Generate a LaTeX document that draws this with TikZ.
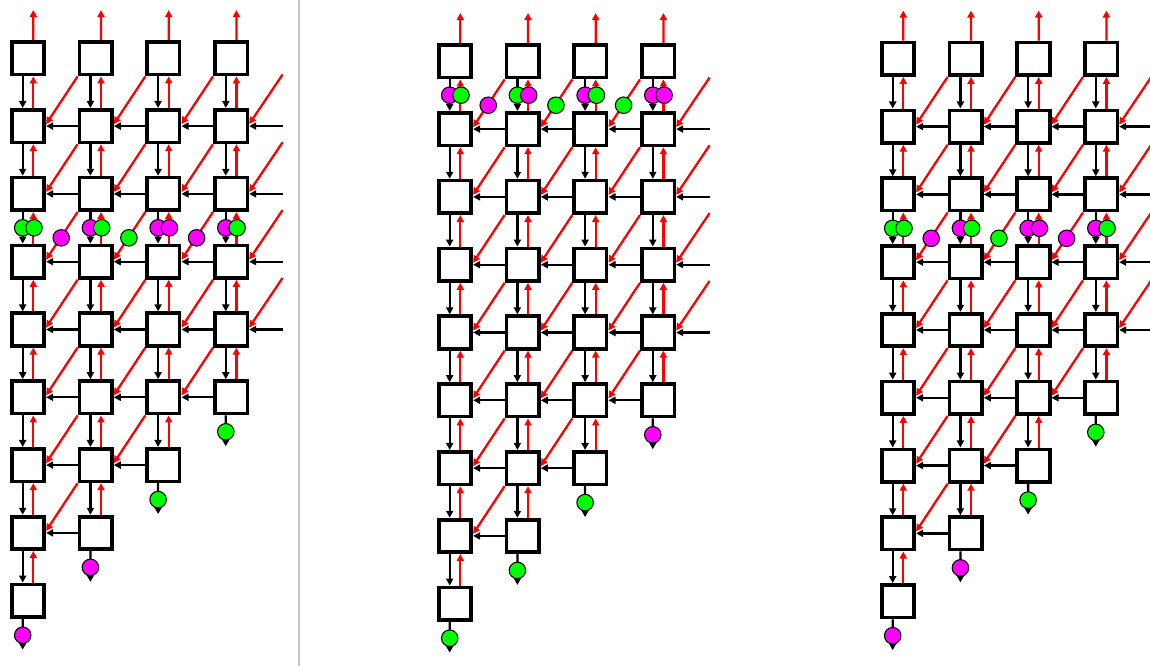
\documentclass[tikz,border=0pt]{standalone}
\usepackage{tikz}
\usetikzlibrary{arrows.meta,calc}
\definecolor{Lime}{HTML}{00FF00}
\definecolor{Fuchsia}{HTML}{FF00FF}
\definecolor{Divider}{HTML}{C4C4C4}
\tikzset{
  cell/.style={
    draw=black, line width=2.1pt, fill=white,
    minimum size=0.65cm, inner sep=0pt
  },
  token/.style={
    circle, draw=black, line width=0.6pt,
    minimum size=0.33cm, inner sep=0pt
  },
  blackflow/.style={-{Triangle[length=4pt,width=4pt]}, line width=1.3pt, draw=black},
  redflow/.style={-{Triangle[length=4pt,width=4pt]}, line width=1.3pt, draw=red},
  sink/.style={-{Triangle[length=5.5pt,width=5.8pt]}, line width=1.3pt, draw=black},
  divider/.style={draw=Divider, line width=0.6pt}
}

\begin{document}
\begin{tikzpicture}[x=0.02cm,y=0.02cm]
  \useasboundingbox (0,0) rectangle (1150,-666);
  \coordinate (sepT) at (299,0);
  \coordinate (sepB) at (299,-666);
  \draw[divider] (sepT) -- (sepB);

  \foreach \p/\ox/\oy/\ba/\bb/\bc/\bd in {1/0/0/Fuchsia/Fuchsia/Lime/Lime,2/427/3/Lime/Lime/Lime/Fuchsia,3/870/0.5/Fuchsia/Fuchsia/Lime/Lime} {
    \foreach \c in {0,...,3} {
      \pgfmathtruncatemacro\last{8-\c}
      \foreach \r in {0,...,\last}
        \node[cell] (p\p r\r c\c) at ({\ox+28+67.7*\c},{-\oy-58.3-67.8*\r}) {};
    }
    \foreach \c/\tint in {0/\ba,1/\bb,2/\bc,3/\bd} {
      \pgfmathtruncatemacro\last{8-\c}
      \pgfmathtruncatemacro\prev{7-\c}
      \coordinate (p\p o\c) at ({\ox+33.3+67.7*\c},{-\oy-10});
      \draw[redflow] ([xshift=0.106cm]p\p r0c\c.north) -- (p\p o\c);
      \foreach \r in {0,...,\prev} {
        \pgfmathtruncatemacro\nx{\r+1}
        \draw[blackflow] ([xshift=-0.106cm]p\p r\r c\c.south) -- ([xshift=-0.106cm]p\p r\nx c\c.north);
        \draw[redflow] ([xshift=0.106cm]p\p r\nx c\c.north) -- ([xshift=0.106cm]p\p r\r c\c.south);
      }
      \coordinate (p\p s\c) at ({\ox+22.7+67.7*\c},{-\oy-107.3-67.8*\last});
      \draw[sink] ([xshift=-0.106cm]p\p r\last c\c.south) -- node[token,fill=\tint,pos=.53] (p\p t\c) {} (p\p s\c);
    }
    \foreach \c in {0,1,2} {
      \pgfmathtruncatemacro\nb{\c+1}
      \pgfmathtruncatemacro\prev{7-\c}
      \foreach \r in {1,...,\prev} {
        \pgfmathtruncatemacro\q{\r-1}
        \draw[blackflow] (p\p r\r c\nb.west) -- (p\p r\r c\c.east);
        \draw[redflow] (p\p r\q c\nb.south west) -- ([yshift=0.04cm]p\p r\r c\c.east);
      }
    }
    \foreach \r in {1,...,4} {
      \pgfmathtruncatemacro\q{\r-1}
      \coordinate (p\p h\r) at ({\ox+282.6},{-\oy-58.3-67.8*\r});
      \coordinate (p\p g\r) at ({\ox+282.6},{-\oy-74.5-67.8*\q});
      \draw[blackflow] (p\p h\r) -- (p\p r\r c3.east);
      \draw[redflow] (p\p g\r) -- ([yshift=0.04cm]p\p r\r c3.east);
    }
  }

  \foreach \c/\ta/\tb in {0/Lime/Lime,1/Fuchsia/Lime,2/Fuchsia/Fuchsia,3/Fuchsia/Lime} {
    \node[token,fill=\ta] (p1a\c) at ($(p1r2c\c.south)!.5!(p1r3c\c.north)+(-5.3,0)$) {};
    \node[token,fill=\tb] (p1b\c) at ($(p1r2c\c.south)!.5!(p1r3c\c.north)+(6,0)$) {};
    \node[token,fill=\ta] (p3a\c) at ($(p3r2c\c.south)!.5!(p3r3c\c.north)+(-5.3,0)$) {};
    \node[token,fill=\tb] (p3b\c) at ($(p3r2c\c.south)!.5!(p3r3c\c.north)+(6,0)$) {};
  }
  \foreach \c/\b/\ta in {1/0/Fuchsia,2/1/Lime,3/2/Fuchsia} {
    \node[token,fill=\ta] (p1d\c) at ($(p1r2c\c.south west)!.52!(p1r3c\b.east)$) {};
    \node[token,fill=\ta] (p3d\c) at ($(p3r2c\c.south west)!.52!(p3r3c\b.east)$) {};
  }
  \foreach \c/\ta/\tb in {0/Fuchsia/Lime,1/Lime/Fuchsia,2/Fuchsia/Lime,3/Fuchsia/Fuchsia} {
    \node[token,fill=\ta] (p2a\c) at ($(p2r0c\c.south)!.5!(p2r1c\c.north)+(-5.3,0)$) {};
    \node[token,fill=\tb] (p2b\c) at ($(p2r0c\c.south)!.5!(p2r1c\c.north)+(6,0)$) {};
  }
  \foreach \c/\b/\ta in {1/0/Fuchsia,2/1/Lime,3/2/Lime}
    \node[token,fill=\ta] (p2d\c) at ($(p2r0c\c.south west)!.52!(p2r1c\b.east)$) {};
\end{tikzpicture}
\end{document}
